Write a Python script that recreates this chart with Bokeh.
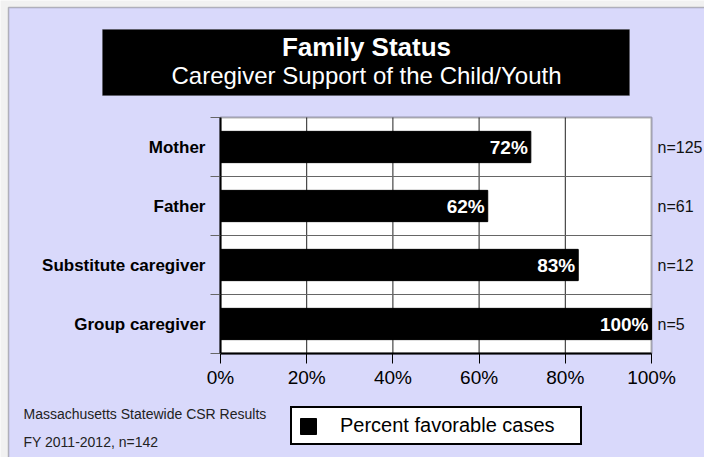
from bokeh.plotting import figure
from bokeh.models import (Range1d, FixedTicker, Label, BoxAnnotation, LinearAxis,
                          ColumnDataSource, Legend, LegendItem)
from bokeh.core.properties import value
from bokeh.embed import file_html
from bokeh.resources import INLINE

# ---- data ----
categories = ["Mother", "Father", "Substitute caregiver", "Group caregiver"]
favorable = [72, 62, 83, 100]
n_labels = ["n=125", "n=61", "n=12", "n=5"]
x_ticks = [0, 20, 40, 60, 80, 100]
x_tick_labels = ["0%", "20%", "40%", "60%", "80%", "100%"]
title_text = "Family Status"
subtitle_text = "Caregiver Support of the Child/Youth"
footer_lines = ["Massachusetts Statewide CSR Results", "FY 2011-2012, n=142"]
legend_label = "Percent favorable cases"

# ---- layout (pixels) ----
W, H = 704, 457
PLOT_L, PLOT_R, PLOT_T, PLOT_B = 220, 651, 117, 353
FONT = "Liberation Sans"
BG = "#d9d9fb"

ncat = len(categories)
xmin, xmax = x_ticks[0], x_ticks[-1]
sx = (PLOT_R - PLOT_L) / (xmax - xmin)      # px per x unit
sy = (PLOT_B - PLOT_T) / ncat               # px per category


def dx(px):
    return xmin + (px - PLOT_L) / sx


def dy(py):
    return (PLOT_B - py) / sy


ypos = [ncat - i - 0.5 for i in range(ncat)]
src = ColumnDataSource(dict(
    y=ypos, value=favorable, n=n_labels,
    vlabel=[f"{v}%" for v in favorable],
))

p = figure(width=W, height=H, output_backend="svg", toolbar_location=None,
           x_range=Range1d(dx(0), dx(W)), y_range=Range1d(dy(H), dy(0)),
           x_axis_location=None, y_axis_location=None, min_border=0)
p.grid.visible = False
p.outline_line_color = None
p.background_fill_color = "#f1f1f1"
p.border_fill_color = "#f1f1f1"

# lavender panel with dark edge
p.add_layout(BoxAnnotation(left=dx(8), right=dx(W + 20), top=dy(7), bottom=dy(H + 20),
                           fill_color=BG, fill_alpha=1, line_color="#333333",
                           line_width=1.5, level="underlay"))
# white plot area
p.add_layout(BoxAnnotation(left=xmin, right=xmax, bottom=0, top=ncat,
                           fill_color="white", fill_alpha=1, line_color=None,
                           level="underlay"))

# grid lines
gx = x_ticks[1:-1]
p.segment(x0=gx, y0=[0] * len(gx), x1=gx, y1=[ncat] * len(gx),
          line_color="#222222", line_width=1)
gy = list(range(1, ncat))
p.segment(x0=[xmin] * len(gy), y0=gy, x1=[xmax] * len(gy), y1=gy,
          line_color="#666666", line_width=1)

# bars
bars = p.hbar(y="y", right="value", left=xmin, height=0.53, source=src,
              fill_color="black", line_color="black")
p.text(x="value", y="y", text="vlabel", source=src, x_offset=-3,
       text_align="right", text_baseline="middle", text_color="white",
       text_font=value(FONT), text_font_style="bold", text_font_size="19px")

# frame outline
p.add_layout(BoxAnnotation(left=xmin, right=xmax, bottom=0, top=ncat,
                           fill_alpha=0, line_color="black", line_width=2))

# n labels
p.text(x=value(xmax), y="y", text="n", source=src, x_offset=6,
       text_baseline="middle", text_font=value(FONT), text_font_size="16px",
       text_color="#111111")

# x axis
xa = LinearAxis(fixed_location=0, bounds=(xmin, xmax))
xa.ticker = FixedTicker(ticks=x_ticks, minor_ticks=[])
xa.major_label_overrides = {t: l for t, l in zip(x_ticks, x_tick_labels)}
xa.major_label_text_font = FONT
xa.major_label_text_font_size = "19px"
xa.major_label_text_color = "black"
xa.major_tick_out = 10
xa.major_tick_in = 0
xa.major_tick_line_color = "black"
xa.minor_tick_line_color = None
xa.axis_line_color = "black"
xa.axis_line_width = 2
xa.major_label_standoff = 3
p.add_layout(xa, "below")

# y axis
ya = LinearAxis(fixed_location=xmin, bounds=(0, ncat))
ya.ticker = FixedTicker(ticks=ypos, minor_ticks=list(range(0, ncat + 1)))
ya.major_label_overrides = {y: c for y, c in zip(ypos, categories)}
ya.major_label_text_font = FONT
ya.major_label_text_font_size = "17px"
ya.major_label_text_font_style = "bold"
ya.major_label_text_color = "black"
ya.major_tick_out = 0
ya.major_tick_in = 0
ya.minor_tick_out = 10
ya.minor_tick_in = 0
ya.minor_tick_line_color = "#666666"
ya.axis_line_color = "black"
ya.axis_line_width = 2
ya.major_label_standoff = 5
p.add_layout(ya, "left")

# title box
p.add_layout(BoxAnnotation(left=dx(102), right=dx(629), top=dy(29), bottom=dy(95),
                           fill_color="black", fill_alpha=1, line_color="#444444"))
p.add_layout(Label(x=dx(366), y=dy(46), text=title_text, text_align="center",
                   text_baseline="middle",
                   text_font=FONT, text_font_style="bold", text_font_size="26px",
                   text_color="white"))
p.add_layout(Label(x=dx(366), y=dy(75), text=subtitle_text, text_align="center",
                   text_baseline="middle",
                   text_font=FONT, text_font_size="24px", text_color="white"))

# footer
for i, line in enumerate(footer_lines):
    p.add_layout(Label(x=dx(23), y=dy(413 + 28 * i), text=line, text_font=FONT,
                       text_baseline="middle",
                       text_font_size="14px", text_color="#222222"))

# legend
legend = Legend(items=[LegendItem(label=legend_label, renderers=[bars])],
                location=(290, H - 445), margin=0, padding=6,
                glyph_width=20, glyph_height=20, label_standoff=22,
                label_width=234, label_text_color="black",
                label_text_font=FONT, label_text_font_size="20px",
                label_height=20, border_line_color="black", border_line_alpha=1,
                border_line_width=2,
                background_fill_color="white", background_fill_alpha=1)
p.add_layout(legend)

open("out.html", "w").write(file_html(p, INLINE))
